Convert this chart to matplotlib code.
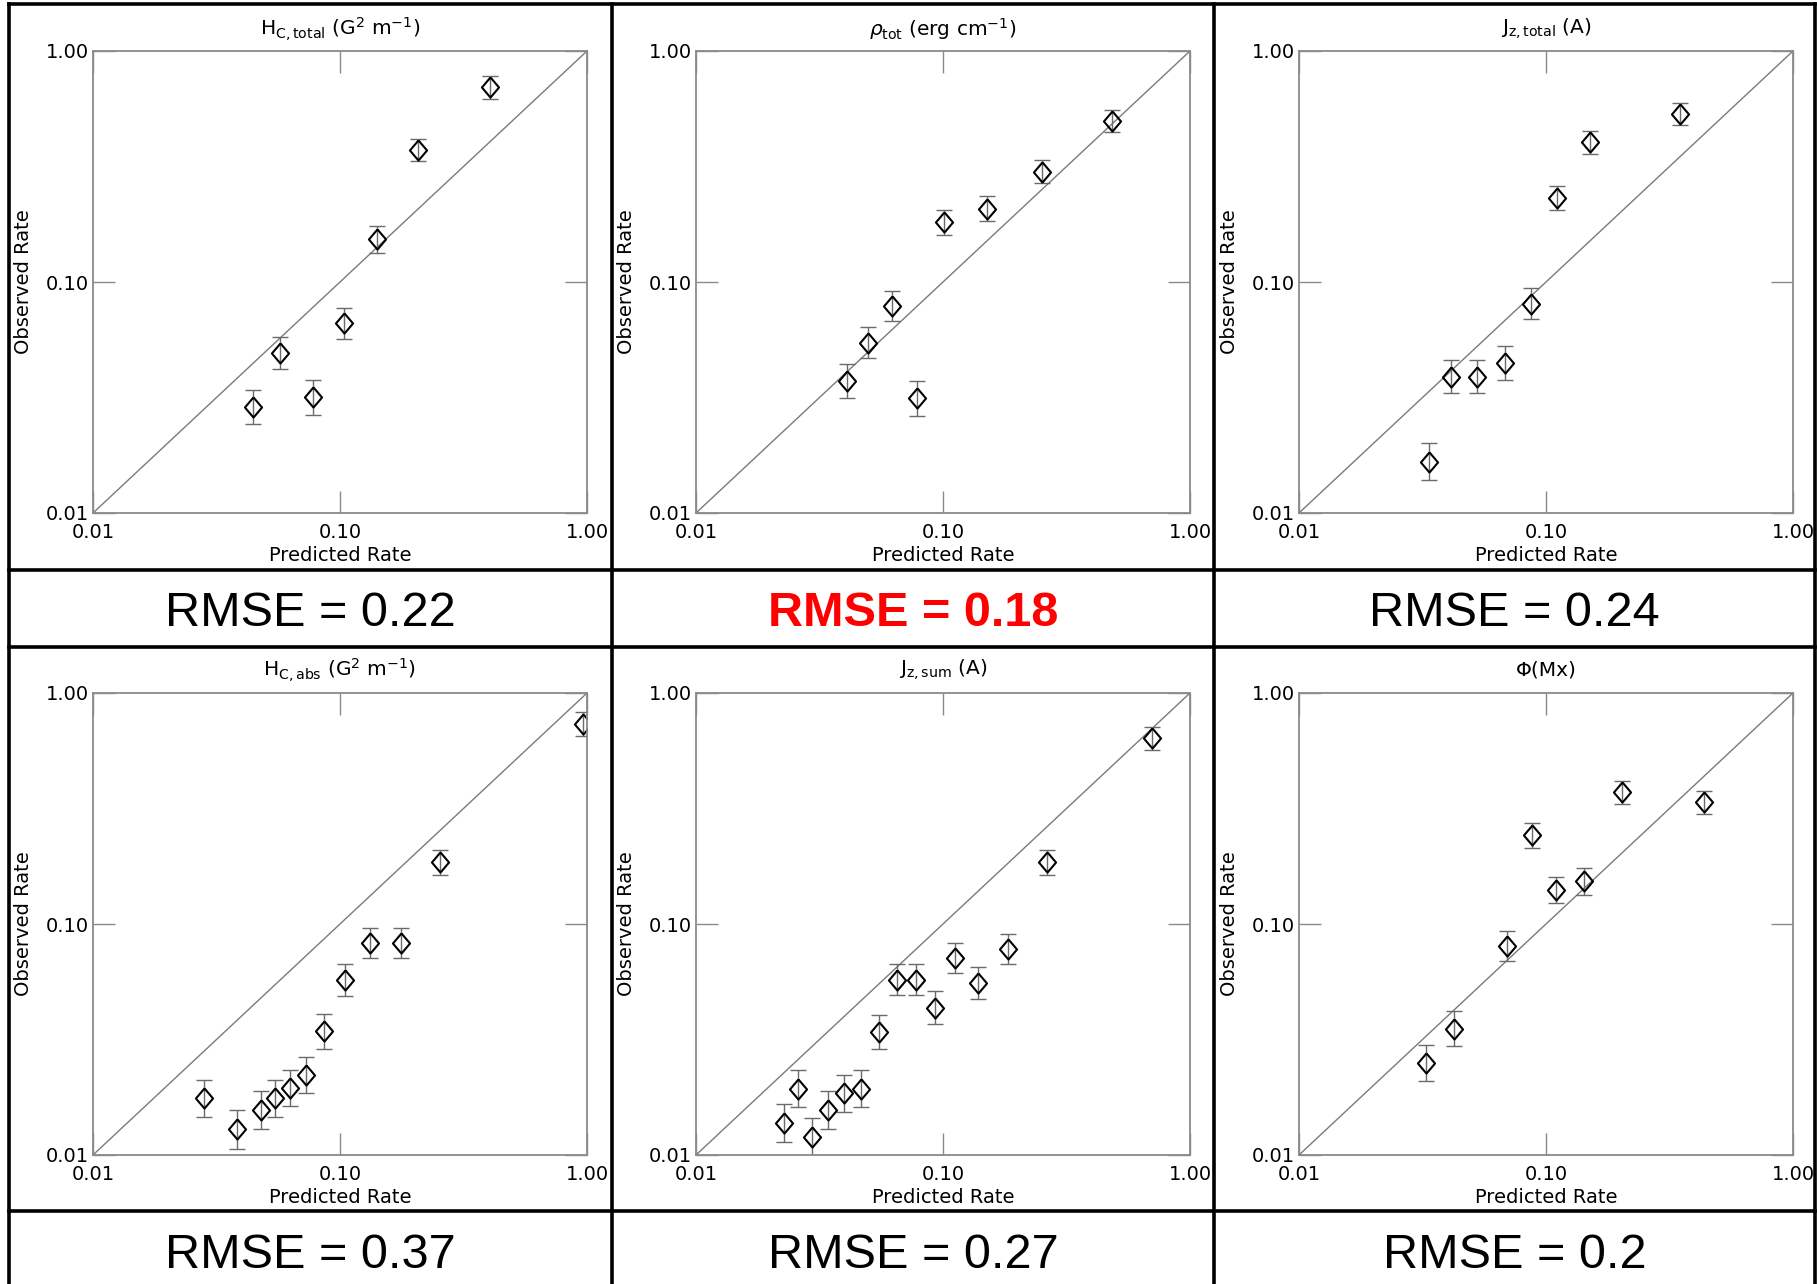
import numpy as np
import matplotlib
matplotlib.use("Agg")
import matplotlib.pyplot as plt
from matplotlib.lines import Line2D

plt.rcParams["font.family"] = ["DejaVu Sans"]
plt.rcParams["mathtext.fontset"] = "dejavusans"

# predicted vs observed flare rates, one set per parameter
# err_* are half-widths of the error bars in dex
hc_total_pred = [0.0445, 0.0574, 0.0776, 0.1035, 0.141, 0.207, 0.406]
hc_total_obs = [0.0288, 0.0493, 0.0317, 0.0662, 0.153, 0.372, 0.697]
hc_total_err = [0.075, 0.071, 0.075, 0.067, 0.059, 0.048, 0.049]

rho_tot_pred = [0.0407, 0.0499, 0.0619, 0.0783, 0.101, 0.151, 0.252, 0.484]
rho_tot_obs = [0.0372, 0.0547, 0.0789, 0.0314, 0.181, 0.208, 0.300, 0.498]
rho_tot_err = [0.074, 0.069, 0.066, 0.075, 0.056, 0.055, 0.050, 0.048]

jz_total_pred = [0.0337, 0.0414, 0.0525, 0.0682, 0.0870, 0.111, 0.151, 0.350]
jz_total_obs = [0.0167, 0.0389, 0.0389, 0.0446, 0.0806, 0.231, 0.402, 0.535]
jz_total_err = [0.081, 0.072, 0.072, 0.072, 0.066, 0.054, 0.049, 0.048]

hc_abs_pred = [0.0281, 0.0382, 0.0479, 0.0547, 0.0626, 0.0729, 0.0863, 0.1045,
               0.132, 0.177, 0.255, 0.963]
hc_abs_obs = [0.0176, 0.0129, 0.0157, 0.0176, 0.0195, 0.0222, 0.0343, 0.0573,
              0.0830, 0.0824, 0.185, 0.736]
hc_abs_err = [0.081, 0.084, 0.083, 0.081, 0.080, 0.079, 0.075, 0.068,
              0.065, 0.065, 0.055, 0.051]

jz_sum_pred = [0.0227, 0.0258, 0.0296, 0.0341, 0.0397, 0.0467, 0.0550, 0.0653,
               0.0778, 0.0929, 0.112, 0.139, 0.183, 0.264, 0.699]
jz_sum_obs = [0.0138, 0.0194, 0.0120, 0.0157, 0.0185, 0.0194, 0.0342, 0.0574,
              0.0574, 0.0434, 0.0712, 0.0556, 0.0778, 0.185, 0.637]
jz_sum_err = [0.082, 0.080, 0.083, 0.082, 0.080, 0.079, 0.074, 0.068,
              0.068, 0.071, 0.066, 0.069, 0.066, 0.054, 0.049]

phi_pred = [0.0328, 0.0424, 0.0695, 0.0878, 0.110, 0.143, 0.203, 0.438]
phi_obs = [0.0251, 0.0352, 0.0802, 0.242, 0.140, 0.153, 0.371, 0.336]
phi_err = [0.078, 0.075, 0.065, 0.053, 0.057, 0.057, 0.049, 0.050]

titles = [r"H$_{\mathrm{C,total}}$ (G$^{2}$ m$^{-1}$)",
          r"$\rho_{\mathrm{tot}}$ (erg cm$^{-1}$)",
          r"J$_{\mathrm{z,total}}$ (A)",
          r"H$_{\mathrm{C,abs}}$ (G$^{2}$ m$^{-1}$)",
          r"J$_{\mathrm{z,sum}}$ (A)",
          "Φ(Mx)"]
rmse = ["0.22", "0.18", "0.24", "0.37", "0.27", "0.2"]
best = 1  # lowest RMSE, highlighted

panels = [(hc_total_pred, hc_total_obs, hc_total_err),
          (rho_tot_pred, rho_tot_obs, rho_tot_err),
          (jz_total_pred, jz_total_obs, jz_total_err),
          (hc_abs_pred, hc_abs_obs, hc_abs_err),
          (jz_sum_pred, jz_sum_obs, jz_sum_err),
          (phi_pred, phi_obs, phi_err)]

W, H = 1817, 1284
fig = plt.figure(figsize=(W / 100, H / 100), dpi=100)

col_left = [93, 696, 1299]
row_top = [51, 693]
ax_w, ax_h = 494, 462
title_y = [29, 670]
rmse_y = [614, 1255]
cell_x = [9, 612, 1214, 1815]

diamond = [(0, 1), (0.85, 0), (0, -1), (-0.85, 0), (0, 1)]
grey = "#8a8a8a"

for i, (pred, obs, err) in enumerate(panels):
    r, c = divmod(i, 3)
    x0, y0 = col_left[c], row_top[r]
    ax = fig.add_axes([x0 / W, 1 - (y0 + ax_h) / H, ax_w / W, ax_h / H])

    pred = np.array(pred)
    obs = np.array(obs)
    f = 10 ** np.array(err)
    lo = obs - obs / f
    hi = obs * f - obs

    ax.plot([0.01, 1], [0.01, 1], color="#7a7a7a", lw=1)
    ax.errorbar(pred, obs, yerr=[lo, hi], fmt="none", ecolor="#6a6a6a",
                elinewidth=1, capsize=5.5, capthick=1)
    ax.plot(pred, obs, ls="none", marker=diamond, ms=14.5, mfc="none",
            mec="black", mew=1.5)

    ax.set_xscale("log")
    ax.set_yscale("log")
    ax.set_xlim(0.01, 1)
    ax.set_ylim(0.01, 1)
    ticks = [0.01, 0.1, 1]
    labels = ["0.01", "0.10", "1.00"]
    ax.set_xticks(ticks)
    ax.set_xticklabels(labels)
    ax.set_yticks(ticks)
    ax.set_yticklabels(labels)
    ax.minorticks_off()
    ax.tick_params(direction="in", length=16, width=1, color=grey,
                   top=True, right=True, labelsize=14, pad=3)
    ax.tick_params(axis="x", pad=7)
    for s in ax.spines.values():
        s.set_color(grey)
        s.set_linewidth(1.3)
    ax.set_xlabel("Predicted Rate", fontsize=14, labelpad=3)
    ax.set_ylabel("Observed Rate", fontsize=14, labelpad=9)

    fig.text((x0 + ax_w / 2) / W, 1 - title_y[r] / H, titles[i],
             ha="center", va="center", fontsize=14.5)

    cx = (cell_x[c] + cell_x[c + 1]) / 2
    fig.text(cx / W, 1 - rmse_y[r] / H, "RMSE = " + rmse[i],
             ha="center", va="center", fontsize=35,
             family="Liberation Sans",
             color="red" if i == best else "black",
             fontweight="bold" if i == best else "normal")

# table grid
lw = 2.6
for x in cell_x:
    fig.add_artist(Line2D([x / W, x / W], [0, 1 - 3.5 / H], color="black",
                          lw=lw, transform=fig.transFigure))
for y in [3.5, 570, 647, 1211]:
    fig.add_artist(Line2D([cell_x[0] / W, cell_x[-1] / W], [1 - y / H, 1 - y / H],
                          color="black", lw=lw, transform=fig.transFigure))

fig.savefig("out.png", dpi=100)
